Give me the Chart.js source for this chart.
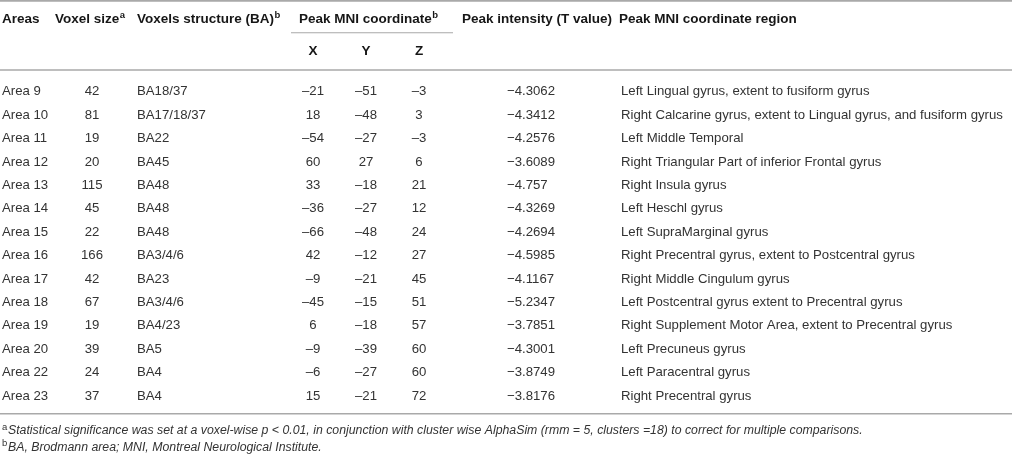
<!DOCTYPE html>
<html>
<head>
<meta charset="utf-8">
<script src="https://cdn.jsdelivr.net/npm/chart.js@4/dist/chart.umd.min.js"></script>
<style>
  html, body { margin: 0; padding: 0; background: #ffffff; }
  #wrap { width: 1012px; height: 455px; }
</style>
</head>
<body>
<div id="wrap"><canvas id="c" width="1012" height="455"></canvas></div>
<script>
// ---- data ----
const areas = ["Area 9","Area 10","Area 11","Area 12","Area 13","Area 14","Area 15","Area 16","Area 17","Area 18","Area 19","Area 20","Area 22","Area 23"];
const voxelSize = [42, 81, 19, 20, 115, 45, 22, 166, 42, 67, 19, 39, 24, 37];
const voxelStructure = ["BA18/37","BA17/18/37","BA22","BA45","BA48","BA48","BA48","BA3/4/6","BA23","BA3/4/6","BA4/23","BA5","BA4","BA4"];
const coordX = [-21, 18, -54, 60, 33, -36, -66, 42, -9, -45, 6, -9, -6, 15];
const coordY = [-51, -48, -27, 27, -18, -27, -48, -12, -21, -15, -18, -39, -27, -21];
const coordZ = [-3, 3, -3, 6, 21, 12, 24, 27, 45, 51, 57, 60, 60, 72];
const tValue = [-4.3062, -4.3412, -4.2576, -3.6089, -4.757, -4.3269, -4.2694, -4.5985, -4.1167, -5.2347, -3.7851, -4.3001, -3.8749, -3.8176];
const regions = [
  "Left Lingual gyrus, extent to fusiform gyrus",
  "Right Calcarine gyrus, extent to Lingual gyrus, and fusiform gyrus",
  "Left Middle Temporal",
  "Right Triangular Part of inferior Frontal gyrus",
  "Right Insula gyrus",
  "Left Heschl gyrus",
  "Left SupraMarginal gyrus",
  "Right Precentral gyrus, extent to Postcentral gyrus",
  "Right Middle Cingulum gyrus",
  "Left Postcentral gyrus extent to Precentral gyrus",
  "Right Supplement Motor Area, extent to Precentral gyrus",
  "Left Precuneus gyrus",
  "Left Paracentral gyrus",
  "Right Precentral gyrus"
];
const headers = ["Areas", "Voxel size", "Voxels structure (BA)", "Peak MNI coordinate", "Peak intensity (T value)", "Peak MNI coordinate region"];
const headerSup = ["", "a", "b", "b", "", ""];
const subHeaders = ["X", "Y", "Z"];
const footnoteA = "Statistical significance was set at a voxel-wise p < 0.01, in conjunction with cluster wise AlphaSim (rmm = 5, clusters =18) to correct for multiple comparisons.";
const footnoteB = "BA, Brodmann area; MNI, Montreal Neurological Institute.";

// ---- layout (x positions in x-scale units) ----
const FONT = '"Liberation Sans", Arial, Helvetica, sans-serif';
const col = {
  area: 2, voxHead: 55, voxData: 92, struct: 137,
  x: 313, y: 366, z: 419, mniLeft: 291, mniRight: 453, mniHead: 299,
  tHead: 462, tData: 507, regHead: 619, regData: 621
};

function fmtCoord(v) { return v < 0 ? "\u2013" + Math.abs(v) : String(v); }
function fmtT(v) { return v < 0 ? "\u2212" + Math.abs(v) : String(v); }

const tablePlugin = {
  id: 'tablePlugin',
  afterDraw(chart) {
    const ctx = chart.ctx;
    const xs = chart.scales.x, ys = chart.scales.y;
    const X = v => xs.getPixelForValue(v);
    const y0 = ys.getPixelForValue(0);
    const step = ys.getPixelForValue(1) - y0;
    const yLast = ys.getPixelForValue(areas.length - 1);
    const left = X(0), right = X(1012);
    const base = c => c + 4.7; // centre -> alphabetic baseline

    ctx.save();
    ctx.textBaseline = 'alphabetic';

    // rules
    ctx.strokeStyle = '#a9a9a9';
    ctx.lineWidth = 1.6;
    [y0 - 3.83 * step, y0 - 0.88 * step, yLast + 0.8 * step].forEach(yy => {
      ctx.beginPath(); ctx.moveTo(left, yy); ctx.lineTo(right, yy); ctx.stroke();
    });
    ctx.lineWidth = 1.2;
    const sub = y0 - 2.47 * step;
    ctx.beginPath(); ctx.moveTo(X(col.mniLeft), sub); ctx.lineTo(X(col.mniRight), sub); ctx.stroke();

    // headers
    const hy = base(y0 - 3.1 * step);
    const hx = [col.area, col.voxHead, col.struct, col.mniHead, col.tHead, col.regHead];
    ctx.fillStyle = '#161616';
    headers.forEach((h, i) => {
      ctx.font = 'bold 13.5px ' + FONT;
      ctx.textAlign = 'left';
      const px = X(hx[i]);
      ctx.fillText(h, px, hy);
      if (headerSup[i]) {
        const w = ctx.measureText(h).width;
        ctx.font = 'bold 9.5px ' + FONT;
        ctx.fillText(headerSup[i], px + w + 0.5, hy - 5);
      }
    });
    ctx.font = 'bold 13.5px ' + FONT;
    ctx.textAlign = 'center';
    const sy = base(y0 - 1.7 * step);
    [col.x, col.y, col.z].forEach((cx, i) => ctx.fillText(subHeaders[i], X(cx), sy));

    // body
    ctx.fillStyle = '#333333';
    ctx.font = '13.2px ' + FONT;
    areas.forEach((a, i) => {
      const ry = base(ys.getPixelForValue(i));
      ctx.textAlign = 'left';
      ctx.fillText(a, X(col.area), ry);
      ctx.fillText(voxelStructure[i], X(col.struct), ry);
      ctx.fillText(fmtT(tValue[i]), X(col.tData), ry);
      ctx.fillText(regions[i], X(col.regData), ry);
      ctx.textAlign = 'center';
      ctx.fillText(String(voxelSize[i]), X(col.voxData), ry);
      ctx.fillText(fmtCoord(coordX[i]), X(col.x), ry);
      ctx.fillText(fmtCoord(coordY[i]), X(col.y), ry);
      ctx.fillText(fmtCoord(coordZ[i]), X(col.z), ry);
    });

    // footnotes
    ctx.textAlign = 'left';
    const fa = yLast + 1.5 * step + 4.3, fb = yLast + 2.2 * step + 4.3;
    [[fa, 'a', footnoteA], [fb, 'b', footnoteB]].forEach(([fy, s, t]) => {
      ctx.font = '9.5px ' + FONT;
      ctx.fillText(s, X(2), fy - 4.5);
      ctx.font = 'italic 12.3px ' + FONT;
      ctx.fillText(t, X(8), fy);
    });
    ctx.restore();
  }
};

new Chart(document.getElementById('c'), {
  type: 'scatter',
  data: { datasets: [] },
  options: {
    responsive: false,
    animation: false,
    events: [],
    layout: { padding: { left: 0, right: 0, top: 90.6, bottom: 60 } },
    plugins: { legend: { display: false }, tooltip: { enabled: false } },
    scales: {
      x: { type: 'linear', min: 0, max: 1012, display: false },
      y: { type: 'category', labels: areas, offset: false, display: false }
    }
  },
  plugins: [tablePlugin]
});
</script>
</body>
</html>
